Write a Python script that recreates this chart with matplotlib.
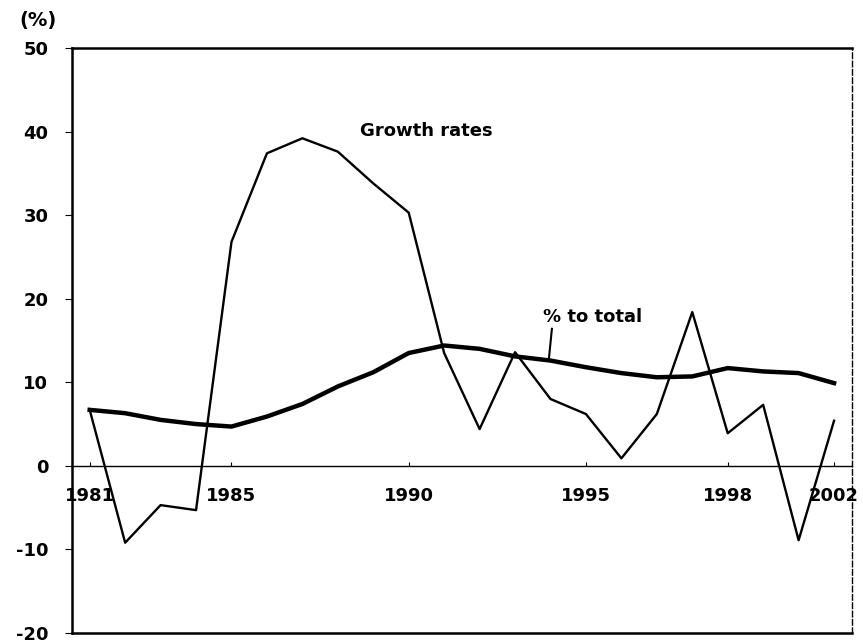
import matplotlib
matplotlib.use("Agg")
import matplotlib.pyplot as plt

# data
years = list(range(1981, 2003))
growth_rates = [6.7, -9.2, -4.7, -5.3, 26.8, 37.4, 39.2, 37.6, 33.8, 30.3,
                13.5, 4.4, 13.6, 8.0, 6.2, 0.9, 6.2, 18.4, 3.9, 7.3, -8.9, 5.4]
pct_to_total = [6.7, 6.3, 5.5, 5.0, 4.7, 5.9, 7.4, 9.5, 11.2, 13.5,
                14.4, 14.0, 13.1, 12.6, 11.8, 11.1, 10.6, 10.7, 11.7, 11.3, 11.1, 9.9]
tick_pos = [1981, 1985, 1990, 1995, 1999, 2002]
tick_labels = ['1981', '1985', '1990', '1995', '1998', '2002']
yticks = [-20, -10, 0, 10, 20, 30, 40, 50]

plt.rcParams['font.family'] = ['DejaVu Sans']

fig = plt.figure(figsize=(8.63, 6.43), dpi=100)
ax = fig.add_axes([0.0834, 0.0156, 0.9036, 0.9097])

ax.plot(years, growth_rates, color='black', lw=1.7)
ax.plot(years, pct_to_total, color='black', lw=3.2)

ax.set_xlim(1980.5, 2002.5)
ax.set_ylim(-20, 50)

# zero line acts as the x axis, labels hang below it
ax.spines['bottom'].set_position(('data', 0))
ax.spines['bottom'].set_linewidth(1.0)
ax.axhline(-20, color='black', lw=1.8, clip_on=False)
ax.spines['left'].set_linewidth(1.8)
ax.spines['top'].set_linewidth(1.8)
ax.spines['right'].set_linewidth(1.0)
ax.spines['right'].set_linestyle((0, (4, 2)))

ax.set_xticks(tick_pos)
ax.set_xticklabels(tick_labels, fontsize=13, fontweight='bold')
ax.tick_params(axis='x', length=3, direction='in', pad=15)

ax.set_yticks(yticks)
ax.set_yticklabels([str(v) for v in yticks], fontsize=13, fontweight='bold')
ax.tick_params(axis='y', length=5, direction='out', pad=12)

ax.text(1990.5, 40.1, 'Growth rates', ha='center', va='center',
        fontsize=13, fontweight='bold')
ax.text(1995.2, 17.8, '% to total', ha='center', va='center',
        fontsize=13, fontweight='bold')
ax.plot([1994.04, 1993.95], [16.4, 12.6], color='black', lw=1.5)

fig.text(0.044, 0.968, '(%)', ha='center', va='center',
         fontsize=14, fontweight='bold')

fig.savefig('out.png', dpi=100)
